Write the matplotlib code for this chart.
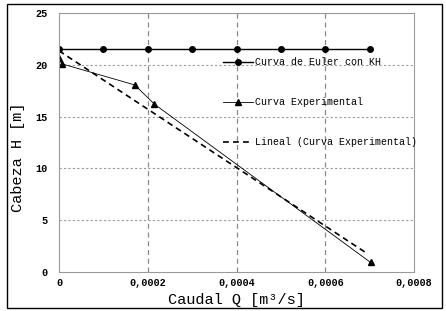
import numpy as np
import matplotlib
matplotlib.use("Agg")
import matplotlib.pyplot as plt
from matplotlib.patches import Rectangle

# Data
euler_q = [0.0, 0.0001, 0.0002, 0.0003, 0.0004, 0.0005, 0.0006, 0.0007]
euler_h = [21.5, 21.5, 21.5, 21.5, 21.5, 21.5, 21.5, 21.5]
exp_q = [0.0, 0.000006, 0.000171, 0.000215, 0.000702]
exp_h = [20.65, 20.1, 18.05, 16.2, 0.93]
x_ticks = [0, 0.0002, 0.0004, 0.0006, 0.0008]
x_tick_labels = ["0", "0,0002", "0,0004", "0,0006", "0,0008"]
y_ticks = [0, 5, 10, 15, 20, 25]

mono = "Liberation Mono"

fig = plt.figure(figsize=(4.46, 3.11), dpi=100)
ax = fig.add_axes([59/446, 1-272/311, (414-59)/446, (272-13)/311])

# grid
for yt in y_ticks[1:-1]:
    ax.axhline(yt, color="#9a9a9a", lw=0.8, ls=(0, (2, 2)), zorder=0)
for xt in x_ticks[1:-1]:
    ax.axvline(xt, color="#8a8a8a", lw=0.9, ls=(0, (4, 3)), zorder=0)

ax.plot(euler_q, euler_h, color="black", lw=1.0, marker="o", ms=4.0,
        label="Curva de Euler con KH")
ax.plot(exp_q, exp_h, color="black", lw=0.6, marker="^", ms=4.0,
        label="Curva Experimental")
coef = np.polyfit(exp_q, exp_h, 1)
fit_x = np.array([0.0, 0.000695])
ax.plot(fit_x, np.polyval(coef, fit_x), color="black", lw=1.2, ls=(0, (3.5, 2.5)),
        label="Lineal (Curva Experimental)")

ax.set_xlim(0, 0.0008)
ax.set_ylim(0, 25)
ax.set_xticks(x_ticks)
ax.set_xticklabels(x_tick_labels)
ax.set_yticks(y_ticks)
ax.tick_params(axis="x", length=0, pad=4, labelsize=7.3)
ax.tick_params(axis="y", length=0, pad=8, labelsize=7.3)
for lab in ax.get_xticklabels() + ax.get_yticklabels():
    lab.set_fontfamily(mono)
    lab.set_fontweight("bold")
for s in ax.spines.values():
    s.set_color("#9a9a9a")
    s.set_linewidth(0.8)

ax.set_xlabel("Caudal Q [m³/s]", fontfamily=mono, fontsize=11, labelpad=4)
ax.set_ylabel("Cabeza H [m]", fontfamily=mono, fontsize=11)
ax.yaxis.set_label_coords(-34/355, (272-157)/259)

leg = ax.legend(loc="upper left", bbox_to_anchor=(0.45, 0.845), frameon=False,
                prop={"family": mono, "size": 7.2}, labelspacing=3.0,
                handlelength=3.0, handletextpad=0.2, borderaxespad=0)

fig.patches.append(Rectangle((7/446, 1-308/311), (442-7)/446, (308-4)/311,
                             transform=fig.transFigure, fill=False,
                             edgecolor="black", lw=1.0))

fig.savefig("out.png", dpi=100)
